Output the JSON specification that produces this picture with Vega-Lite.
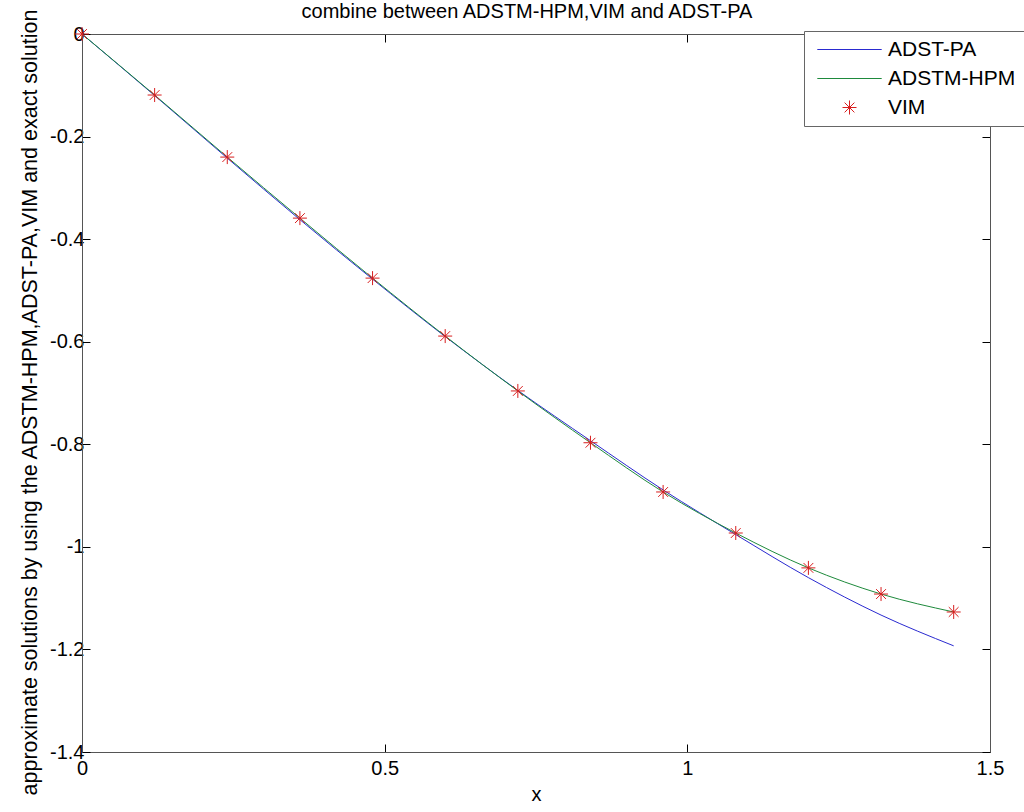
{
  "$schema": "https://vega.github.io/schema/vega-lite/v6.json",
  "width": 908,
  "height": 718,
  "autosize": {"type": "none"},
  "padding": {"left": 82, "top": 34, "right": 34, "bottom": 60},
  "background": "white",
  "title": {"text": "combine between ADSTM-HPM,VIM and ADST-PA", "font": "Liberation Sans", "fontSize": 20, "fontWeight": "normal", "color": "#000", "offset": -14, "dx": -9},
  "config": {
    "view": {"stroke": "#555", "strokeWidth": 1},
    "font": "Liberation Sans",
    "axis": {"grid": false, "labelFont": "Liberation Sans", "labelFontSize": 20, "labelColor": "#000", "titleFont": "Liberation Sans", "titleFontSize": 20, "titleFontWeight": "normal", "titleColor": "#000", "tickColor": "#000", "domainColor": "#555", "tickSize": -8, "labelFlush": false},
    "legend": {"orient": "none", "legendX": 722, "legendY": -3, "strokeColor": "#666", "fillColor": "white", "padding": 8, "labelFont": "Liberation Sans", "labelFontSize": 21, "labelColor": "#000", "symbolSize": 196, "symbolStrokeWidth": 1, "symbolOffset": 27, "labelOffset": 28, "rowPadding": 7}
  },
  "data": {"values": [
    {"x": 0, "y": 0, "series": "ADST-PA"},
    {"x": 0.12, "y": -0.12, "series": "ADST-PA"},
    {"x": 0.24, "y": -0.242, "series": "ADST-PA"},
    {"x": 0.36, "y": -0.362, "series": "ADST-PA"},
    {"x": 0.48, "y": -0.478, "series": "ADST-PA"},
    {"x": 0.6, "y": -0.59, "series": "ADST-PA"},
    {"x": 0.72, "y": -0.695, "series": "ADST-PA"},
    {"x": 0.84, "y": -0.793, "series": "ADST-PA"},
    {"x": 0.96, "y": -0.889, "series": "ADST-PA"},
    {"x": 1.08, "y": -0.976, "series": "ADST-PA"},
    {"x": 1.2, "y": -1.06, "series": "ADST-PA"},
    {"x": 1.32, "y": -1.133, "series": "ADST-PA"},
    {"x": 1.44, "y": -1.193, "series": "ADST-PA"},
    {"x": 0, "y": 0, "series": "ADSTM-HPM"},
    {"x": 0.12, "y": -0.119, "series": "ADSTM-HPM"},
    {"x": 0.24, "y": -0.24, "series": "ADSTM-HPM"},
    {"x": 0.36, "y": -0.359, "series": "ADSTM-HPM"},
    {"x": 0.48, "y": -0.476, "series": "ADSTM-HPM"},
    {"x": 0.6, "y": -0.589, "series": "ADSTM-HPM"},
    {"x": 0.72, "y": -0.696, "series": "ADSTM-HPM"},
    {"x": 0.84, "y": -0.797, "series": "ADSTM-HPM"},
    {"x": 0.96, "y": -0.893, "series": "ADSTM-HPM"},
    {"x": 1.08, "y": -0.973, "series": "ADSTM-HPM"},
    {"x": 1.2, "y": -1.041, "series": "ADSTM-HPM"},
    {"x": 1.32, "y": -1.092, "series": "ADSTM-HPM"},
    {"x": 1.44, "y": -1.127, "series": "ADSTM-HPM"},
    {"x": 0, "y": 0, "series": "VIM"},
    {"x": 0.12, "y": -0.119, "series": "VIM"},
    {"x": 0.24, "y": -0.24, "series": "VIM"},
    {"x": 0.36, "y": -0.359, "series": "VIM"},
    {"x": 0.48, "y": -0.476, "series": "VIM"},
    {"x": 0.6, "y": -0.589, "series": "VIM"},
    {"x": 0.72, "y": -0.696, "series": "VIM"},
    {"x": 0.84, "y": -0.797, "series": "VIM"},
    {"x": 0.96, "y": -0.893, "series": "VIM"},
    {"x": 1.08, "y": -0.973, "series": "VIM"},
    {"x": 1.2, "y": -1.041, "series": "VIM"},
    {"x": 1.32, "y": -1.092, "series": "VIM"},
    {"x": 1.44, "y": -1.127, "series": "VIM"}
  ]},
  "layer": [
    {
      "transform": [{"filter": "datum.series != 'VIM'"}],
      "mark": {"type": "line", "strokeWidth": 1, "interpolate": "monotone"},
      "encoding": {
        "x": {"field": "x", "type": "quantitative", "scale": {"domain": [0, 1.5], "nice": false, "zero": false}, "axis": {"orient": "bottom", "title": "x", "values": [0, 0.5, 1, 1.5], "format": "~g", "labelPadding": 14, "titlePadding": 6}},
        "y": {"field": "y", "type": "quantitative", "scale": {"domain": [-1.4, 0], "nice": false}, "axis": {"orient": "left", "title": "approximate solutions by using the ADSTM-HPM,ADST-PA,VIM and exact solution", "titleFontSize": 21.5, "values": [0, -0.2, -0.4, -0.6, -0.8, -1, -1.2, -1.4], "labelExpr": "replace(format(datum.value, '.1~f'), '\u2212', '-')", "labelPadding": 6, "titlePadding": 8, "titleY": 368}},
        "color": {"field": "series", "type": "nominal", "scale": {"domain": ["ADST-PA", "ADSTM-HPM", "VIM"], "range": ["#2a2ad0", "#1e8a3c", "#d81e1e"]}, "legend": {"title": null}},
        "detail": {"field": "series"}
      }
    },
    {
      "transform": [{"filter": "datum.series == 'VIM'"}],
      "mark": {"type": "point", "filled": false, "size": 196, "strokeWidth": 1, "opacity": 1},
      "encoding": {
        "x": {"field": "x", "type": "quantitative", "axis": {"orient": "top", "title": null, "labels": false, "values": [0, 0.5, 1, 1.5]}},
        "y": {"field": "y", "type": "quantitative", "axis": {"orient": "right", "title": null, "labels": false, "values": [0, -0.2, -0.4, -0.6, -0.8, -1, -1.2, -1.4]}},
        "color": {"field": "series", "type": "nominal", "legend": {"title": null}},
        "shape": {"field": "series", "type": "nominal", "scale": {"domain": ["ADST-PA", "ADSTM-HPM", "VIM"], "range": ["M-4.6,0L4.6,0", "M-4.6,0L4.6,0", "M-1,0L1,0M0,-1L0,1M-0.7,-0.7L0.7,0.7M-0.7,0.7L0.7,-0.7"]}, "legend": {"title": null}}
      }
    }
  ],
  "resolve": {"axis": {"x": "independent", "y": "independent"}}
}
